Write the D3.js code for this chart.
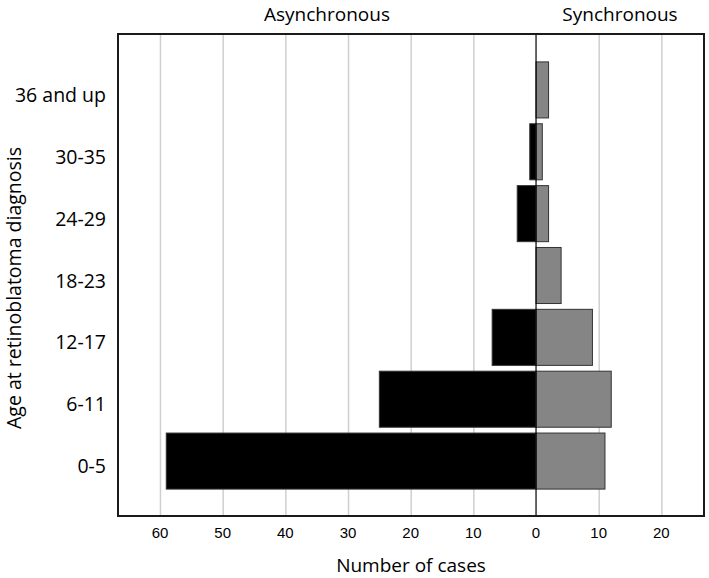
<!DOCTYPE html>
<html>
<head>
<meta charset="utf-8">
<script src="https://cdn.jsdelivr.net/npm/d3@7"></script>
<style>
	body { margin: 0; background: #fff; }
	svg text { fill: #000; }
	.lbl { font-family: "Open Sans", sans-serif; font-size: 19.5px; }
	.title { font-family: "Open Sans", sans-serif; font-size: 19px; }
	.tick-lbl { font-family: "Liberation Sans", Arial, sans-serif; font-size: 15px; }
	.grid line { stroke: #cfcfcf; stroke-width: 1.5; }
	.grid path { display: none; }
</style>
</head>
<body>
<div id="chart"></div>
<script>
//data
var ages = ["36 and up", "30-35", "24-29", "18-23", "12-17", "6-11", "0-5"];
var asynchronous = [0, 1, 3, 0, 7, 25, 59];
var synchronous = [2, 1, 2, 4, 9, 12, 11];
var xTicks = [-60, -50, -40, -30, -20, -10, 0, 10, 20];

var W = 709, H = 578;
var frame = {left: 118, right: 704, top: 34, bottom: 516};

var svg = d3.select("#chart").append("svg")
	.attr("width", W)
	.attr("height", H);

var x = d3.scaleLinear()
	.domain([-66.7, 26.8])
	.range([frame.left, frame.right]);

var y = d3.scaleBand()
	.domain(ages)
	.range([59, 492])
	.paddingInner(0.094)
	.paddingOuter(0.047);

// gridlines
svg.append("g")
	.attr("class", "grid")
	.attr("transform", "translate(0," + frame.bottom + ")")
	.call(d3.axisBottom(x)
		.tickValues(xTicks.filter(function(d) { return d !== 0; }))
		.tickSize(-(frame.bottom - frame.top))
		.tickFormat(""));

// asynchronous bars (left), zero rows left out
var asyncRows = ages.map(function(a, i) { return {age: a, v: asynchronous[i]}; })
	.filter(function(d) { return d.v > 0; });

svg.append("g").selectAll("rect")
	.data(asyncRows)
	.enter().append("rect")
	.attr("x", function(d) { return x(-d.v); })
	.attr("y", function(d) { return y(d.age); })
	.attr("width", function(d) { return x(0) - x(-d.v); })
	.attr("height", y.bandwidth())
	.attr("fill", "#000")
	.attr("stroke", "#333")
	.attr("stroke-width", 1);

// synchronous bars (right)
svg.append("g").selectAll("rect")
	.data(synchronous)
	.enter().append("rect")
	.attr("x", x(0))
	.attr("y", function(d, i) { return y(ages[i]); })
	.attr("width", function(d) { return x(d) - x(0); })
	.attr("height", y.bandwidth())
	.attr("fill", "#858585")
	.attr("stroke", "#333")
	.attr("stroke-width", 1);

// zero line
svg.append("line")
	.attr("x1", x(0)).attr("x2", x(0))
	.attr("y1", frame.top).attr("y2", frame.bottom)
	.attr("stroke", "#000")
	.attr("stroke-width", 1.2);

// frame
svg.append("rect")
	.attr("x", frame.left)
	.attr("y", frame.top)
	.attr("width", frame.right - frame.left)
	.attr("height", frame.bottom - frame.top)
	.attr("fill", "none")
	.attr("stroke", "#1a1a1a")
	.attr("stroke-width", 2);

// tick labels
svg.append("g").selectAll("text")
	.data(xTicks)
	.enter().append("text")
	.attr("class", "tick-lbl")
	.attr("x", function(d) { return x(d); })
	.attr("y", 538)
	.attr("text-anchor", "middle")
	.text(function(d) { return Math.abs(d); });

// category labels
svg.append("g").selectAll("text")
	.data(ages)
	.enter().append("text")
	.attr("class", "lbl")
	.attr("x", 106)
	.attr("y", function(d) { return y(d) + y.bandwidth() / 2 + 12; })
	.attr("text-anchor", "end")
	.text(function(d) { return d; });

// titles
svg.append("text")
	.attr("class", "title")
	.attr("x", (frame.left + x(0)) / 2)
	.attr("y", 21)
	.attr("text-anchor", "middle")
	.text("Asynchronous");

svg.append("text")
	.attr("class", "title")
	.attr("x", (x(0) + frame.right) / 2)
	.attr("y", 21)
	.attr("text-anchor", "middle")
	.text("Synchronous");

svg.append("text")
	.attr("class", "title")
	.attr("x", (frame.left + frame.right) / 2)
	.attr("y", 572)
	.attr("text-anchor", "middle")
	.text("Number of cases");

svg.append("text")
	.attr("class", "lbl")
	.attr("transform", "translate(21,288) rotate(-90)")
	.attr("text-anchor", "middle")
	.text("Age at retinoblatoma diagnosis");
</script>
</body>
</html>
